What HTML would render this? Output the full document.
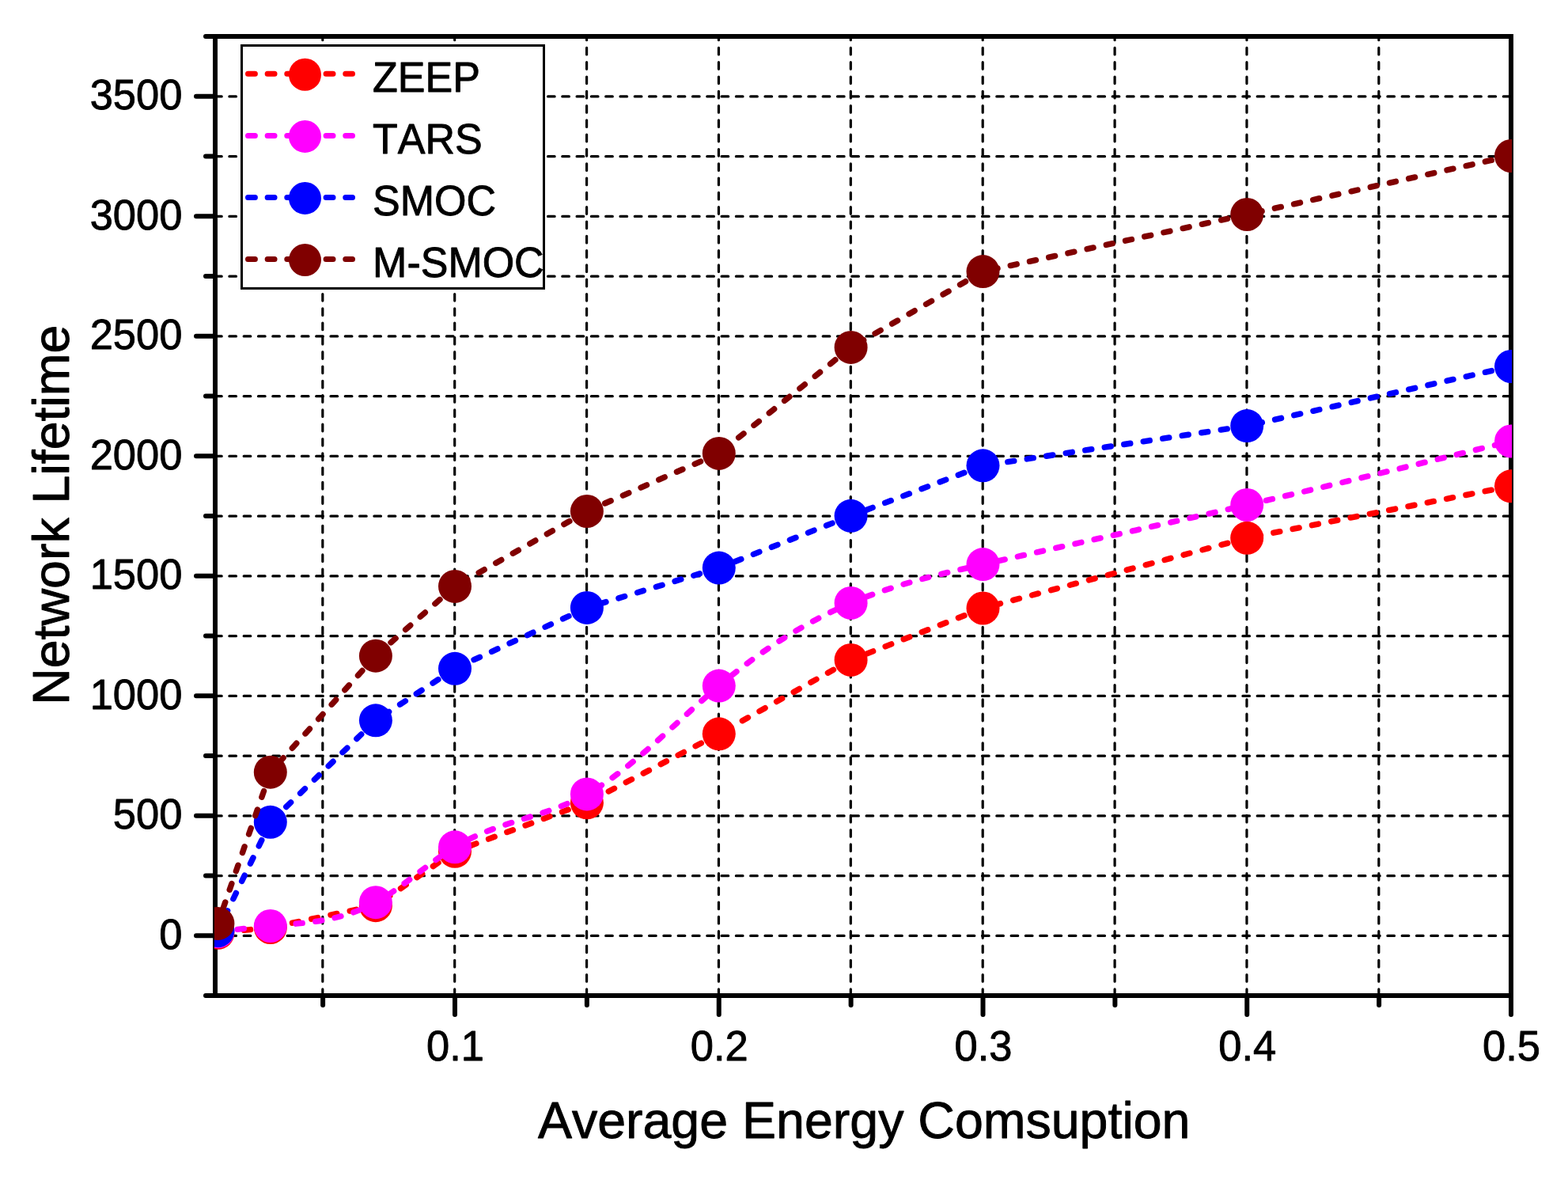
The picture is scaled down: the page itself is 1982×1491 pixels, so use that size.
<!DOCTYPE html>
<html lang="en"><head><meta charset="utf-8"><title>Network Lifetime vs Average Energy Comsuption</title>
<style>
html,body{margin:0;padding:0;background:#fff;}
body{width:1982px;height:1491px;overflow:hidden;}
svg{display:block;}
text{font-family:"Liberation Sans",Arial,Helvetica,sans-serif;fill:#000;stroke:#000;stroke-width:0.9px;stroke-linejoin:round;font-kerning:none;}
.tick{font-size:52.5px;}
.leg{font-size:52px;}
.title{font-size:64.5px;}
.grid line{stroke:#000;stroke-width:3.2;stroke-linecap:round;stroke-dasharray:8.6 9.7;}
.axis line{stroke:#000;stroke-width:6;stroke-linecap:round;}
.data line,.data path{fill:none;stroke-width:7.4;stroke-linecap:round;stroke-linejoin:round;stroke-dasharray:8.1 16.67;}
.legline{fill:none;stroke-width:7;stroke-linecap:round;stroke-dasharray:8.9 15.75;}
</style></head><body>
<svg width="1982" height="1491" viewBox="0 0 1982 1491" role="img" aria-label="Network Lifetime versus Average Energy Comsuption">
<rect x="0" y="0" width="1982" height="1491" fill="#fff"/>
<defs><clipPath id="plotclip"><rect x="271" y="46" width="1640" height="1212"/></clipPath></defs>
<g class="grid">
<line x1="271.60" y1="1182.45" x2="1910.00" y2="1182.45"/>
<line x1="271.60" y1="1106.70" x2="1910.00" y2="1106.70"/>
<line x1="271.60" y1="1030.95" x2="1910.00" y2="1030.95"/>
<line x1="271.60" y1="955.20" x2="1910.00" y2="955.20"/>
<line x1="271.60" y1="879.45" x2="1910.00" y2="879.45"/>
<line x1="271.60" y1="803.70" x2="1910.00" y2="803.70"/>
<line x1="271.60" y1="727.95" x2="1910.00" y2="727.95"/>
<line x1="271.60" y1="652.20" x2="1910.00" y2="652.20"/>
<line x1="271.60" y1="576.45" x2="1910.00" y2="576.45"/>
<line x1="271.60" y1="500.70" x2="1910.00" y2="500.70"/>
<line x1="271.60" y1="424.95" x2="1910.00" y2="424.95"/>
<line x1="271.60" y1="349.20" x2="1910.00" y2="349.20"/>
<line x1="271.60" y1="273.45" x2="1910.00" y2="273.45"/>
<line x1="271.60" y1="197.70" x2="1910.00" y2="197.70"/>
<line x1="271.60" y1="121.95" x2="1910.00" y2="121.95"/>
<line x1="407.82" y1="1258.50" x2="407.82" y2="46.00"/>
<line x1="574.70" y1="1258.50" x2="574.70" y2="46.00"/>
<line x1="741.58" y1="1258.50" x2="741.58" y2="46.00"/>
<line x1="908.45" y1="1258.50" x2="908.45" y2="46.00"/>
<line x1="1075.33" y1="1258.50" x2="1075.33" y2="46.00"/>
<line x1="1242.20" y1="1258.50" x2="1242.20" y2="46.00"/>
<line x1="1409.08" y1="1258.50" x2="1409.08" y2="46.00"/>
<line x1="1575.95" y1="1258.50" x2="1575.95" y2="46.00"/>
<line x1="1742.83" y1="1258.50" x2="1742.83" y2="46.00"/>
</g>
<g class="axis">
<line x1="272" y1="43" x2="272" y2="1261" style="stroke-linecap:butt"/>
<line x1="1910" y1="43" x2="1910" y2="1261" style="stroke-linecap:butt"/>
<line x1="269" y1="46" x2="1913" y2="46" style="stroke-linecap:butt"/>
<line x1="269" y1="1258" x2="1913" y2="1258" style="stroke-linecap:butt"/>
<line x1="272.00" y1="1258.00" x2="260.00" y2="1258.00"/>
<line x1="272.00" y1="1182.25" x2="248.00" y2="1182.25"/>
<line x1="272.00" y1="1106.50" x2="260.00" y2="1106.50"/>
<line x1="272.00" y1="1030.75" x2="248.00" y2="1030.75"/>
<line x1="272.00" y1="955.00" x2="260.00" y2="955.00"/>
<line x1="272.00" y1="879.25" x2="248.00" y2="879.25"/>
<line x1="272.00" y1="803.50" x2="260.00" y2="803.50"/>
<line x1="272.00" y1="727.75" x2="248.00" y2="727.75"/>
<line x1="272.00" y1="652.00" x2="260.00" y2="652.00"/>
<line x1="272.00" y1="576.25" x2="248.00" y2="576.25"/>
<line x1="272.00" y1="500.50" x2="260.00" y2="500.50"/>
<line x1="272.00" y1="424.75" x2="248.00" y2="424.75"/>
<line x1="272.00" y1="349.00" x2="260.00" y2="349.00"/>
<line x1="272.00" y1="273.25" x2="248.00" y2="273.25"/>
<line x1="272.00" y1="197.50" x2="260.00" y2="197.50"/>
<line x1="272.00" y1="121.75" x2="248.00" y2="121.75"/>
<line x1="272.00" y1="46.00" x2="260.00" y2="46.00"/>
<line x1="408.12" y1="1258.00" x2="408.12" y2="1270.00"/>
<line x1="575.00" y1="1258.00" x2="575.00" y2="1282.00"/>
<line x1="741.88" y1="1258.00" x2="741.88" y2="1270.00"/>
<line x1="908.75" y1="1258.00" x2="908.75" y2="1282.00"/>
<line x1="1075.62" y1="1258.00" x2="1075.62" y2="1270.00"/>
<line x1="1242.50" y1="1258.00" x2="1242.50" y2="1282.00"/>
<line x1="1409.38" y1="1258.00" x2="1409.38" y2="1270.00"/>
<line x1="1576.25" y1="1258.00" x2="1576.25" y2="1282.00"/>
<line x1="1743.12" y1="1258.00" x2="1743.12" y2="1270.00"/>
<line x1="1910.00" y1="1258.00" x2="1910.00" y2="1282.00"/>
</g>
<g class="data" clip-path="url(#plotclip)">
<g stroke="#ff0000" fill="#ff0000">
<line x1="316.63" y1="1174.58" x2="275.40" y2="1178.80" style="stroke-dasharray:8.10 16.67"/>
<line x1="450.13" y1="1149.37" x2="341.80" y2="1172.00" style="stroke-dasharray:8.10 16.67"/>
<line x1="554.11" y1="1090.07" x2="474.90" y2="1144.20" style="stroke-dasharray:8.10 16.67"/>
<line x1="718.16" y1="1023.05" x2="575.00" y2="1075.80" style="stroke-dasharray:8.10 16.67"/>
<line x1="886.32" y1="939.00" x2="741.90" y2="1014.30" style="stroke-dasharray:8.10 16.67"/>
<line x1="1053.52" y1="846.26" x2="908.75" y2="927.30" style="stroke-dasharray:8.10 16.67"/>
<line x1="1218.94" y1="777.73" x2="1075.60" y2="833.90" style="stroke-dasharray:8.10 16.67"/>
<line x1="1551.80" y1="686.30" x2="1242.50" y2="768.50" style="stroke-dasharray:8.10 16.67"/>
<line x1="1885.17" y1="619.17" x2="1576.25" y2="679.80" style="stroke-dasharray:8.10 16.67"/>
<circle cx="275.4" cy="1178.8" r="21" stroke="none"/>
<circle cx="341.8" cy="1172.0" r="21" stroke="none"/>
<circle cx="474.9" cy="1144.2" r="21" stroke="none"/>
<circle cx="575.0" cy="1075.8" r="21" stroke="none"/>
<circle cx="741.9" cy="1014.3" r="21" stroke="none"/>
<circle cx="908.8" cy="927.3" r="21" stroke="none"/>
<circle cx="1075.6" cy="833.9" r="21" stroke="none"/>
<circle cx="1242.5" cy="768.5" r="21" stroke="none"/>
<circle cx="1576.2" cy="679.8" r="21" stroke="none"/>
<circle cx="1910.0" cy="614.3" r="21" stroke="none"/>
</g>
<g stroke="#ff00ff" fill="#ff00ff">
<path d="M275.40 1177.30 C297.53 1174.65 319.67 1172.00 341.80 1170.00 C386.17 1165.99 430.53 1164.61 474.90 1140.20 C508.27 1121.84 541.63 1090.46 575.00 1070.30 C630.63 1036.68 686.27 1034.23 741.90 1003.40 C797.52 972.58 853.13 913.38 908.75 866.60 C964.37 819.82 1019.98 785.45 1075.60 761.90 C1131.23 738.35 1186.87 725.62 1242.50 713.10 C1353.75 688.06 1465.00 663.80 1576.25 638.00 C1687.50 612.20 1798.75 584.85 1910.00 557.50" fill="none" style="stroke-dasharray:8.100 16.672;stroke-dashoffset:-0.20"/>
<circle cx="275.4" cy="1177.3" r="21" stroke="none"/>
<circle cx="341.8" cy="1170.0" r="21" stroke="none"/>
<circle cx="474.9" cy="1140.2" r="21" stroke="none"/>
<circle cx="575.0" cy="1070.3" r="21" stroke="none"/>
<circle cx="741.9" cy="1003.4" r="21" stroke="none"/>
<circle cx="908.8" cy="866.6" r="21" stroke="none"/>
<circle cx="1075.6" cy="761.9" r="21" stroke="none"/>
<circle cx="1242.5" cy="713.1" r="21" stroke="none"/>
<circle cx="1576.2" cy="638.0" r="21" stroke="none"/>
<circle cx="1910.0" cy="557.5" r="21" stroke="none"/>
</g>
<g stroke="#0000ff" fill="#0000ff">
<line x1="330.78" y1="1061.57" x2="275.40" y2="1176.00" style="stroke-dasharray:8.10 16.67"/>
<line x1="456.70" y1="927.87" x2="341.80" y2="1038.80" style="stroke-dasharray:8.10 16.67"/>
<line x1="553.83" y1="858.65" x2="474.90" y2="910.30" style="stroke-dasharray:8.10 16.67"/>
<line x1="718.92" y1="778.49" x2="575.00" y2="844.80" style="stroke-dasharray:8.10 16.67"/>
<line x1="884.53" y1="724.90" x2="741.90" y2="767.90" style="stroke-dasharray:8.10 16.67"/>
<line x1="1052.06" y1="661.08" x2="908.75" y2="717.60" style="stroke-dasharray:8.10 16.67"/>
<line x1="1218.85" y1="597.30" x2="1075.60" y2="651.80" style="stroke-dasharray:8.10 16.67"/>
<line x1="1551.23" y1="541.86" x2="1242.50" y2="588.30" style="stroke-dasharray:8.10 16.67"/>
<line x1="1885.32" y1="468.55" x2="1576.25" y2="538.10" style="stroke-dasharray:8.10 16.67"/>
<circle cx="275.4" cy="1176.0" r="21" stroke="none"/>
<circle cx="341.8" cy="1038.8" r="21" stroke="none"/>
<circle cx="474.9" cy="910.3" r="21" stroke="none"/>
<circle cx="575.0" cy="844.8" r="21" stroke="none"/>
<circle cx="741.9" cy="767.9" r="21" stroke="none"/>
<circle cx="908.8" cy="717.6" r="21" stroke="none"/>
<circle cx="1075.6" cy="651.8" r="21" stroke="none"/>
<circle cx="1242.5" cy="588.3" r="21" stroke="none"/>
<circle cx="1576.2" cy="538.1" r="21" stroke="none"/>
<circle cx="1910.0" cy="463.0" r="21" stroke="none"/>
</g>
<g stroke="#800000" fill="#800000">
<line x1="333.50" y1="999.60" x2="275.40" y2="1166.90" style="stroke-dasharray:8.10 16.67"/>
<line x1="457.92" y1="847.45" x2="341.80" y2="975.70" style="stroke-dasharray:8.10 16.67"/>
<line x1="555.98" y1="757.58" x2="474.90" y2="828.70" style="stroke-dasharray:8.10 16.67"/>
<line x1="719.91" y1="658.51" x2="575.00" y2="740.90" style="stroke-dasharray:8.10 16.67"/>
<line x1="885.58" y1="583.05" x2="741.90" y2="646.00" style="stroke-dasharray:8.10 16.67"/>
<line x1="1055.87" y1="454.74" x2="908.75" y2="572.90" style="stroke-dasharray:8.10 16.67"/>
<line x1="1220.56" y1="355.69" x2="1075.60" y2="438.90" style="stroke-dasharray:8.10 16.67"/>
<line x1="1551.52" y1="276.34" x2="1242.50" y2="343.10" style="stroke-dasharray:8.10 16.67"/>
<line x1="1885.30" y1="202.48" x2="1576.25" y2="271.00" style="stroke-dasharray:8.10 16.67"/>
<circle cx="275.4" cy="1166.9" r="21" stroke="none"/>
<circle cx="341.8" cy="975.7" r="21" stroke="none"/>
<circle cx="474.9" cy="828.7" r="21" stroke="none"/>
<circle cx="575.0" cy="740.9" r="21" stroke="none"/>
<circle cx="741.9" cy="646.0" r="21" stroke="none"/>
<circle cx="908.8" cy="572.9" r="21" stroke="none"/>
<circle cx="1075.6" cy="438.9" r="21" stroke="none"/>
<circle cx="1242.5" cy="343.1" r="21" stroke="none"/>
<circle cx="1576.2" cy="271.0" r="21" stroke="none"/>
<circle cx="1910.0" cy="197.0" r="21" stroke="none"/>
</g>
</g>
<g class="tick">
<text transform="translate(230.4 1198.8) scale(1 1.01)" text-anchor="end">0</text>
<text transform="translate(230.4 1047.3) scale(1 1.01)" text-anchor="end">500</text>
<text transform="translate(230.4 895.9) scale(1 1.01)" text-anchor="end">1000</text>
<text transform="translate(230.4 744.4) scale(1 1.01)" text-anchor="end">1500</text>
<text transform="translate(230.4 592.9) scale(1 1.01)" text-anchor="end">2000</text>
<text transform="translate(230.4 441.4) scale(1 1.01)" text-anchor="end">2500</text>
<text transform="translate(230.4 289.9) scale(1 1.01)" text-anchor="end">3000</text>
<text transform="translate(230.4 138.3) scale(1 1.01)" text-anchor="end">3500</text>
<text transform="translate(575.5 1340.3) scale(1 1.01)" text-anchor="middle">0.1</text>
<text transform="translate(909.2 1340.3) scale(1 1.01)" text-anchor="middle">0.2</text>
<text transform="translate(1243.0 1340.3) scale(1 1.01)" text-anchor="middle">0.3</text>
<text transform="translate(1576.8 1340.3) scale(1 1.01)" text-anchor="middle">0.4</text>
<text transform="translate(1910.5 1340.3) scale(1 1.01)" text-anchor="middle">0.5</text>
</g>
<text class="title" x="1092.2" y="1437.6" text-anchor="middle">Average Energy Comsuption</text>
<text class="title" transform="translate(87 650.7) rotate(-90)" text-anchor="middle">Network Lifetime</text>
<g class="legend">
<rect x="305.5" y="57.5" width="382" height="306.9" fill="#fff" stroke="#000" stroke-width="3"/>
<line class="legline" x1="313.5" y1="93.3" x2="445.5" y2="93.3" stroke="#ff0000"/>
<circle cx="385.5" cy="94.3" r="20.5" fill="#ff0000"/>
<text class="leg" transform="translate(471.1 115.5) scale(1 1.03)">ZEEP</text>
<line class="legline" x1="313.5" y1="171.4" x2="445.5" y2="171.4" stroke="#ff00ff"/>
<circle cx="385.5" cy="172.4" r="20.5" fill="#ff00ff"/>
<text class="leg" transform="translate(471.1 193.5) scale(1 1.03)">TARS</text>
<line class="legline" x1="313.5" y1="249.4" x2="445.5" y2="249.4" stroke="#0000ff"/>
<circle cx="385.5" cy="250.4" r="20.5" fill="#0000ff"/>
<text class="leg" transform="translate(471.1 271.5) scale(1 1.03)">SMOC</text>
<line class="legline" x1="313.5" y1="327.5" x2="445.5" y2="327.5" stroke="#800000"/>
<circle cx="385.5" cy="328.5" r="20.5" fill="#800000"/>
<text class="leg" transform="translate(471.1 349.5) scale(1 1.03)">M-SMOC</text>
</g>
</svg>
</body></html>
